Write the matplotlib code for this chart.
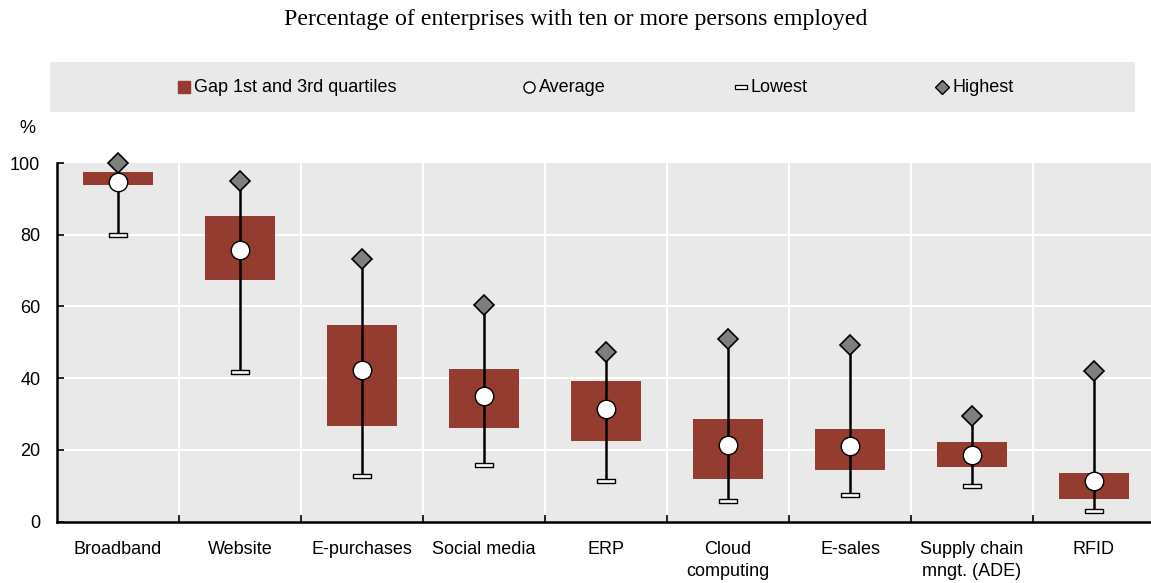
import matplotlib
matplotlib.use("Agg")
import matplotlib.pyplot as plt
from matplotlib.patches import Rectangle
from matplotlib.lines import Line2D
from matplotlib.path import Path
import numpy as np
from matplotlib import font_manager as fm

categories = ["Broadband", "Website", "E-purchases", "Social media", "ERP",
              "Cloud\ncomputing", "E-sales", "Supply chain\nmngt. (ADE)", "RFID"]
q1 = [93.9, 67.3, 26.7, 26.1, 22.6, 12.0, 14.3, 15.3, 6.3]
q3 = [97.4, 85.2, 54.8, 42.6, 39.3, 28.7, 25.9, 22.2, 13.6]
average = [94.6, 75.8, 42.4, 35.1, 31.5, 21.5, 21.1, 18.5, 11.4]
lowest = [80.0, 41.6, 12.8, 15.8, 11.3, 5.9, 7.4, 10.0, 3.1]
highest = [100.0, 95.1, 73.1, 60.3, 47.3, 50.8, 49.2, 29.6, 41.9]
yticks = [0, 20, 40, 60, 80, 100]

avail = {f.name for f in fm.fontManager.ttflist}
sans = ["Liberation Sans Narrow", "Liberation Sans", "DejaVu Sans"]
sans = [f for f in sans if f in avail] + ["DejaVu Sans"]
plt.rcParams["font.family"] = sans

BOX = "#943c2f"
BG = "#e9e9e9"
DIA = "#7f7f7f"

fig = plt.figure(figsize=(11.51, 5.83), dpi=100)
ax = fig.add_axes([57/1151, 1-521.7/583, (1155-57)/1151, (521.7-163)/583])
ax.set_facecolor(BG)
n = len(categories)
x = np.arange(n)
ax.set_xlim(-0.5, n - 0.5)
ax.set_ylim(0, 100)

# grid
for yv in yticks[1:-1]:
    ax.axhline(yv, color="white", lw=1.5, zorder=1)
for b in np.arange(0.5, n - 0.5, 1):
    ax.axvline(b, color="white", lw=1.5, zorder=1)

bottoms = np.array(q1)
heights = np.array(q3) - bottoms
ax.bar(x, heights, bottom=bottoms, width=0.57, color=BOX, zorder=2)
for i in range(n):
    ax.plot([x[i], x[i]], [lowest[i], highest[i]], color="black", lw=1.8, zorder=3,
            solid_capstyle="butt")
low_marker = Path([(-4.5, -1.1), (4.5, -1.1), (4.5, 1.1), (-4.5, 1.1), (-4.5, -1.1)],
                  [Path.MOVETO, Path.LINETO, Path.LINETO, Path.LINETO, Path.CLOSEPOLY])
ax.plot(x, lowest, ls="none", marker=low_marker, ms=13, mfc="white", mec="black",
        mew=1.0, zorder=4, clip_on=False)
ax.plot(x, highest, ls="none", marker="D", ms=10.5, mfc=DIA, mec="black",
        mew=1.2, zorder=4, clip_on=False)
ax.plot(x, average, ls="none", marker="o", ms=13.3, mfc="white", mec="black",
        mew=1.0, zorder=5, clip_on=False)

for s in ["top", "right"]:
    ax.spines[s].set_visible(False)
for s in ["left", "bottom"]:
    ax.spines[s].set_linewidth(1.8)
    ax.spines[s].set_color("black")

ax.set_yticks(yticks)
ax.set_yticklabels([str(v) for v in yticks], fontsize=13)
ax.tick_params(axis="y", direction="in", length=5, width=1.2, pad=12)
ax.set_xticks(np.arange(0.5, n - 0.5, 1), minor=False)
ax.set_xticklabels([])
ax.tick_params(axis="x", direction="in", length=5, width=1.2)
ax.set_xticks(x, minor=True)
ax.set_xticklabels(categories, minor=True, fontsize=13, linespacing=1.4)
ax.tick_params(axis="x", which="minor", length=0, pad=14)

fig.text(27/1151, 1 - 128/583, "%", fontsize=13, ha="center", va="center")
fig.text(0.5, 1 - 19/583, "Percentage of enterprises with ten or more persons employed",
         fontsize=17.2, family=["Liberation Serif", "DejaVu Serif"], ha="center", va="center")

# legend panel
fig.patches.append(Rectangle((50/1151, 1 - 112/583), (1135-50)/1151, 50/583,
                             transform=fig.transFigure, facecolor=BG, edgecolor="none"))
ly = 1 - 87/583
items = [
    (184, dict(marker="s", ms=8, mfc=BOX, mec=BOX), "Gap 1st and 3rd quartiles"),
    (529, dict(marker="o", ms=8, mfc="white", mec="black", mew=1.0), "Average"),
    (741, dict(marker=low_marker, ms=9, mfc="white", mec="black", mew=0.9), "Lowest"),
    (942, dict(marker="D", ms=7, mfc=DIA, mec="black", mew=1.0), "Highest"),
]
for px, kw, lab in items:
    fig.add_artist(Line2D([px/1151], [ly], transform=fig.transFigure, ls="none", **kw))
    fig.text((px + 10)/1151, ly, lab, fontsize=13, ha="left", va="center")

fig.savefig("out.png", dpi=100)
